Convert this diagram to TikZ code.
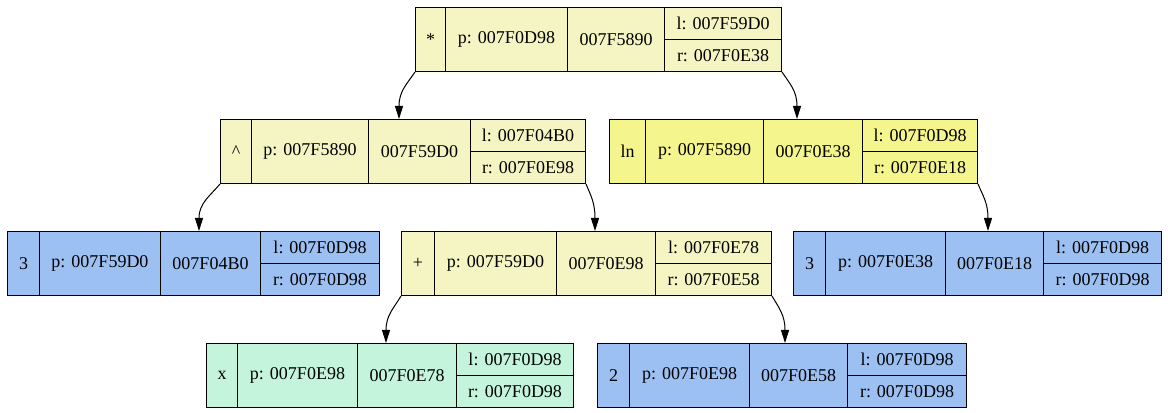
\documentclass[tikz,border=0pt]{standalone}
\usepackage{fontspec}
\setmainfont{Liberation Serif}
\usetikzlibrary{arrows.meta}
\definecolor{yelA}{HTML}{F5F5C4}
\definecolor{yelB}{HTML}{F5F58E}
\definecolor{blueA}{HTML}{9CC0F2}
\definecolor{greenA}{HTML}{C4F5DC}
\tikzset{
  cellst/.style={draw, line width=0.75pt, inner sep=0pt, font=\fontsize{13.5}{16}\selectfont},
  edge/.style={draw, line width=0.75pt, -{Triangle[length=9.75pt,width=6pt]}}
}
\newcommand\recgeom[8]{\def\rc{#1}\def\ya{#2}\def\yb{#3}\def\xa{#4}\def\xb{#5}\def\xc{#6}\def\xd{#7}\def\xe{#8}}
\newcommand\cellnode[6]{%
  \node[cellst, fill=\rc, minimum width={(#4-#2)*0.75pt}, minimum height={(#5-#3)*0.75pt}, anchor=north west] (#1) at (#2,#3) {#6};}
\newcommand\rectext[6]{%
  \pgfmathsetmacro\ym{(\ya+\yb)/2}%
  \cellnode{#1s}{\xa}{\ya}{\xb}{\yb}{#2}%
  \cellnode{#1p}{\xb}{\ya}{\xc}{\yb}{#3}%
  \cellnode{#1a}{\xc}{\ya}{\xd}{\yb}{#4}%
  \cellnode{#1l}{\xd}{\ya}{\xe}{\ym}{#5}%
  \cellnode{#1r}{\xd}{\ym}{\xe}{\yb}{#6}%
}
\begin{document}
\begin{tikzpicture}[x=0.75pt,y=-0.75pt]
\useasboundingbox[fill=white] (0,0) rectangle (1168,413);
% records
\recgeom{yelA}{7}{71}{415}{445}{567}{664}{781}
\rectext{A}{*}{p: 007F0D98}{007F5890}{l: 007F59D0}{r: 007F0E38}
\recgeom{yelA}{119}{183}{220}{251}{368}{470}{585}
\rectext{B}{\textasciicircum}{p: 007F5890}{007F59D0}{l: 007F04B0}{r: 007F0E98}
\recgeom{yelB}{119}{183}{609}{645}{763}{862}{977}
\rectext{C}{ln}{p: 007F5890}{007F0E38}{l: 007F0D98}{r: 007F0E18}
\recgeom{blueA}{231}{295}{7}{39}{160}{260}{379}
\rectext{D}{3}{p: 007F59D0}{007F04B0}{l: 007F0D98}{r: 007F0D98}
\recgeom{yelA}{231}{295}{401}{434}{556}{655}{771}
\rectext{E}{+}{p: 007F59D0}{007F0E98}{l: 007F0E78}{r: 007F0E58}
\recgeom{blueA}{231}{295}{793}{825}{945}{1043}{1161}
\rectext{F}{3}{p: 007F0E38}{007F0E18}{l: 007F0D98}{r: 007F0D98}
\recgeom{greenA}{343}{407}{206}{237}{357}{456}{573}
\rectext{G}{x}{p: 007F0E98}{007F0E78}{l: 007F0D98}{r: 007F0D98}
\recgeom{blueA}{343}{407}{597}{629}{749}{847}{966}
\rectext{H}{2}{p: 007F0E98}{007F0E58}{l: 007F0D98}{r: 007F0D98}
% edges
\draw[edge] (As.south west) .. controls +(-8,12) and +(0,-28) .. ([xshift=23.25pt]Ba.north west);
\draw[edge] (Ar.south east) .. controls +(8,12) and +(0,-28) .. ([xshift=25.5pt]Ca.north west);
\draw[edge] (Bs.south west) .. controls +(-10,12) and +(0,-28) .. ([xshift=29.25pt]Da.north west);
\draw[edge] (Br.south east) .. controls +(5,12) and +(0,-28) .. ([xshift=29.25pt]Ea.north west);
\draw[edge] (Cr.south east) .. controls +(5,12) and +(0,-28) .. ([xshift=32.25pt]Fa.north west);
\draw[edge] (Es.south west) .. controls +(-7,12) and +(0,-28) .. ([xshift=21.75pt]Ga.north west);
\draw[edge] (Er.south east) .. controls +(7,12) and +(0,-28) .. ([xshift=27pt]Ha.north west);
\end{tikzpicture}
\end{document}
